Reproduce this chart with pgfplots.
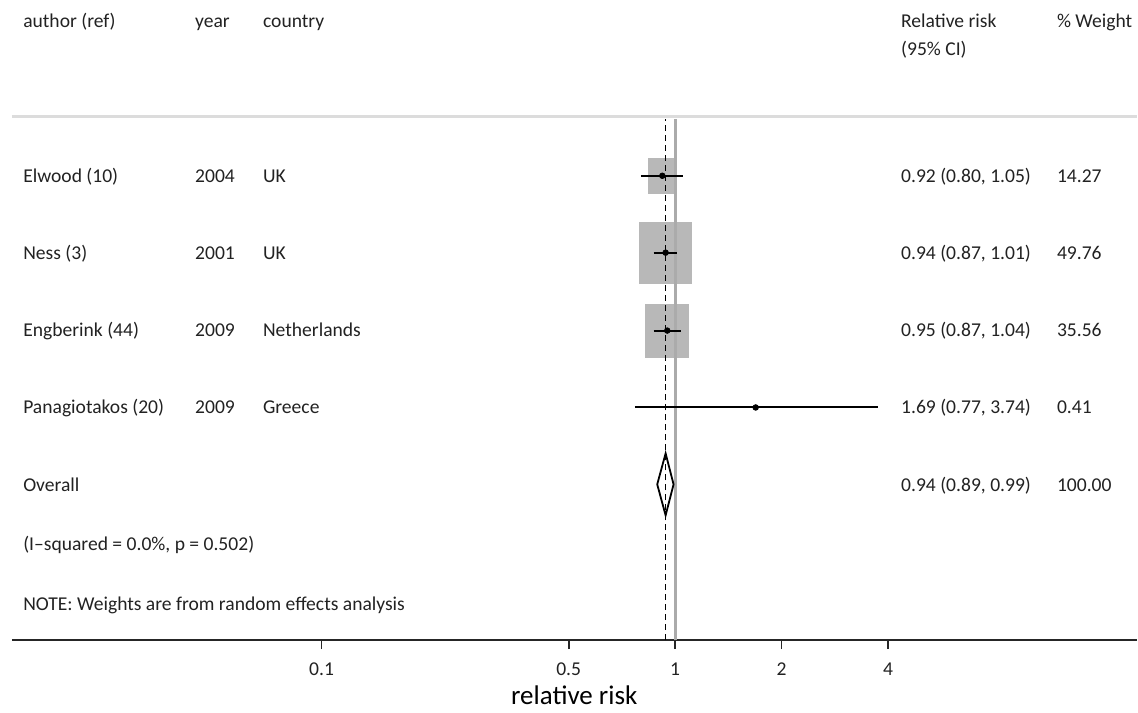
\documentclass[border=0pt]{standalone}
\usepackage{pgfplots}
\pgfplotsset{compat=1.18}
\usepackage{fontspec}
\setmainfont{Carlito}
\definecolor{boxgray}{HTML}{B8B8B8}
\definecolor{linegray}{HTML}{ABABAB}
\definecolor{rulegray}{HTML}{DCDCDC}
\definecolor{txt}{HTML}{222222}
\begin{document}
\begin{tikzpicture}
\begin{axis}[
  scale only axis, width=563pt, height=320.5pt,
  xmode=log, xmin=0.01331, xmax=20.19, ymin=0, ymax=641,
  axis x line*=bottom, axis y line=none,
  x axis line style={line width=0.9pt, color=black!85},
  xtick={0.1,0.5,1,2,4}, xticklabels={0.1,0.5,1,2,4}, minor xtick={},
  tick align=outside, major tick length=4.5pt,
  every tick/.style={black!85, line width=0.8pt},
  xticklabel style={font=\fontsize{9.8}{10}\selectfont, text=txt, yshift=-3.5pt},
  /pgf/number format/assume math mode=true,
  xlabel={relative risk},
  xlabel style={font=\fontsize{13.5}{14}\selectfont, text=black, yshift=2pt},
  clip=false,
]
% header rule
\addplot[rulegray, line width=1.5pt, forget plot] coordinates {(0.01331,524) (20.19,524)};
% boxes (weights)
\addplot[fill=boxgray, draw=none] coordinates {(0.837,447) (1.011,447) (1.011,483) (0.837,483)} --cycle;
\addplot[fill=boxgray, draw=none] coordinates {(0.791,357) (1.117,357) (1.117,419) (0.791,419)} --cycle;
\addplot[fill=boxgray, draw=none] coordinates {(0.823,283) (1.096,283) (1.096,337) (0.823,337)} --cycle;
% reference lines
\addplot[linegray, line width=1.5pt] coordinates {(1,0) (1,522)};
\addplot[black, line width=0.6pt, dash pattern=on 3pt off 2pt] coordinates {(0.94,0) (0.94,522)};
% confidence intervals
\addplot[black, line width=1pt] coordinates {(0.80,465) (1.05,465)};
\addplot[black, line width=1pt] coordinates {(0.87,388) (1.01,388)};
\addplot[black, line width=1pt] coordinates {(0.87,310) (1.04,310)};
\addplot[black, line width=1pt] coordinates {(0.77,233) (3.74,233)};
% point estimates
\addplot[only marks, mark=*, mark size=1.4pt, black] coordinates {(0.92,465) (0.94,388) (0.95,310) (1.69,233)};
% overall diamond
\addplot[black, line width=0.9pt] coordinates {(0.89,156) (0.94,187) (0.99,156) (0.94,125)} --cycle;
\begin{scope}[every node/.style={anchor=west, inner xsep=0pt, text height=1.5ex, text depth=0.25ex, font=\fontsize{9.8}{10}\selectfont, text=txt}]
% header text
\node at (axis cs:0.01429,619) {author (ref)};
\node at (axis cs:0.04378,619) {year};
\node at (axis cs:0.06813,619) {country};
\node at (axis cs:4.348,619) {Relative risk};
\node at (axis cs:4.348,591) {(95\% CI)};
\node[overlay] at (axis cs:12.00,619) {\% Weight};
% rows
\node at (axis cs:0.01429,464) {Elwood (10)};
\node at (axis cs:0.04378,464) {2004};
\node at (axis cs:0.06813,464) {UK};
\node at (axis cs:4.348,464) {0.92 (0.80, 1.05)};
\node at (axis cs:12.00,464) {14.27};
\node at (axis cs:0.01429,387) {Ness (3)};
\node at (axis cs:0.04378,387) {2001};
\node at (axis cs:0.06813,387) {UK};
\node at (axis cs:4.348,387) {0.94 (0.87, 1.01)};
\node at (axis cs:12.00,387) {49.76};
\node at (axis cs:0.01429,310) {Engberink (44)};
\node at (axis cs:0.04378,310) {2009};
\node at (axis cs:0.06813,310) {Netherlands};
\node at (axis cs:4.348,310) {0.95 (0.87, 1.04)};
\node at (axis cs:12.00,310) {35.56};
\node at (axis cs:0.01429,233) {Panagiotakos (20)};
\node at (axis cs:0.04378,233) {2009};
\node at (axis cs:0.06813,233) {Greece};
\node at (axis cs:4.348,233) {1.69 (0.77, 3.74)};
\node at (axis cs:12.00,233) {0.41};
\node at (axis cs:0.01429,155) {Overall};
\node at (axis cs:4.348,155) {0.94 (0.89, 0.99)};
\node[overlay] at (axis cs:12.00,155) {100.00};
\node at (axis cs:0.01429,96) {(I--squared = 0.0\%, p = 0.502)};
\node at (axis cs:0.01429,36) {NOTE: Weights are from random effects analysis};
\end{scope}
% bounding box
\path (axis cs:0.01231,-72) rectangle (axis cs:20.19,641);
\end{axis}
\end{tikzpicture}
\end{document}
